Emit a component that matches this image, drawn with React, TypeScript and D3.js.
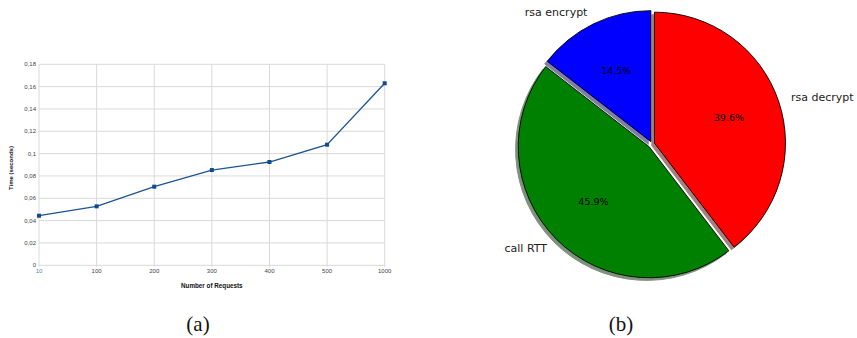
import React from "react";
import * as d3 from "d3";

// (a) response time per request count
const requestCounts = ["10", "100", "200", "300", "400", "500", "1000"];
const responseTimes = [0.0444, 0.0528, 0.0704, 0.0853, 0.0925, 0.108, 0.163];
const yTicks = [0, 0.02, 0.04, 0.06, 0.08, 0.1, 0.12, 0.14, 0.16, 0.18];

// (b) share of time per operation
const sliceLabels = ["rsa decrypt", "call RTT", "rsa encrypt"];
const sliceShares = [39.6, 45.9, 14.5];
const sliceColors = ["#ff0000", "#008000", "#0000ff"];
const sliceExplode = [0.02, 0.03, 0.02];

const W = 857;
const H = 338;

function LineChart() {
  const x = d3.scalePoint<string>().domain(requestCounts).range([39, 384.7]);
  const y = d3.scaleLinear().domain([0, 0.18]).range([265.3, 64.3]);
  const line = d3
    .line<number>()
    .x((_, i) => x(requestCounts[i]) as number)
    .y((d) => y(d));
  const fmt = (v: number) => String(+v.toFixed(2)).replace(".", ",");
  const font = "'Liberation Sans', Arial, sans-serif";
  return (
    <g>
      {yTicks.map((t) => (
        <line
          key={"h" + t}
          x1={x.range()[0]}
          x2={x.range()[1]}
          y1={y(t)}
          y2={y(t)}
          stroke="#d9d9d9"
          strokeWidth={1}
        />
      ))}
      {requestCounts.map((c) => (
        <line
          key={"v" + c}
          x1={x(c)}
          x2={x(c)}
          y1={y(0.18)}
          y2={y(0) + 1.5}
          stroke="#d9d9d9"
          strokeWidth={1}
        />
      ))}
      {yTicks.map((t) => (
        <text
          key={"yt" + t}
          x={36}
          y={y(t)}
          dy="0.35em"
          textAnchor="end"
          fontFamily={font}
          fontSize={6}
          fill="#444"
        >
          {fmt(t)}
        </text>
      ))}
      {requestCounts.map((c, i) => (
        <text
          key={"xt" + c}
          x={x(c)}
          y={273}
          textAnchor="middle"
          fontFamily={font}
          fontSize={6}
          fill={i === 0 ? "#5a82c8" : "#444"}
        >
          {c}
        </text>
      ))}
      <path d={line(responseTimes) || ""} fill="none" stroke="#1d5493" strokeWidth={1.3} />
      {responseTimes.map((v, i) => (
        <rect
          key={"m" + i}
          x={(x(requestCounts[i]) as number) - 2}
          y={y(v) - 2}
          width={4}
          height={4}
          fill="#0f4a8c"
        />
      ))}
      <text
        x={211.8}
        y={288}
        textAnchor="middle"
        fontFamily={font}
        fontSize={6.3}
        fontWeight="bold"
        fill="#111"
      >
        Number of Requests
      </text>
      <text
        transform={`translate(11,168) rotate(-90)`}
        dy="0.35em"
        textAnchor="middle"
        fontFamily={font}
        fontSize={6}
        fontWeight="bold"
        fill="#111"
      >
        Time (seconds)
      </text>
    </g>
  );
}

function PieChart() {
  const cx = 652;
  const cy = 144;
  const r = 131;
  const shadow = 0.02 * r;
  const pie = d3
    .pie<number>()
    .sort(null)
    .startAngle(0)
    .endAngle(2 * Math.PI);
  const arcs = pie(sliceShares);
  const arc = d3.arc<d3.PieArcDatum<number>>().innerRadius(0).outerRadius(r);
  const dir = (a: d3.PieArcDatum<number>) => {
    const m = (a.startAngle + a.endAngle) / 2;
    return [Math.sin(m), -Math.cos(m)];
  };
  const shadowColor = (c: string) => {
    const rgb = d3.rgb(c);
    return d3.rgb(rgb.r * 0.3, rgb.g * 0.3, rgb.b * 0.3).toString();
  };
  const font = "'DejaVu Sans', sans-serif";
  return (
    <g>
      {arcs.map((a, i) => {
        const [dx, dy] = dir(a);
        const e = sliceExplode[i] * r;
        return (
          <path
            key={"s" + i}
            d={arc(a) || ""}
            transform={`translate(${cx + dx * e - shadow},${cy + dy * e + shadow})`}
            fill={shadowColor(sliceColors[i])}
            stroke={shadowColor(sliceColors[i])}
            strokeWidth={1}
            opacity={0.5}
          />
        );
      })}
      {arcs.map((a, i) => {
        const [dx, dy] = dir(a);
        const e = sliceExplode[i] * r;
        return (
          <path
            key={"w" + i}
            d={arc(a) || ""}
            transform={`translate(${cx + dx * e},${cy + dy * e})`}
            fill={sliceColors[i]}
            stroke="#000"
            strokeWidth={0.9}
            strokeLinejoin="round"
          />
        );
      })}
      {arcs.map((a, i) => {
        const [dx, dy] = dir(a);
        const e = sliceExplode[i] * r;
        const ox = cx + dx * e;
        const oy = cy + dy * e;
        return (
          <g key={"t" + i}>
            <text
              x={ox + dx * r * 0.6}
              y={oy + dy * r * 0.6}
              dy="0.35em"
              textAnchor="middle"
              fontFamily={font}
              fontSize={9.5}
              fill="#000"
            >
              {a.data.toFixed(1)}%
            </text>
            <text
              x={ox + dx * r * 1.1}
              y={oy + dy * r * 1.1}
              dy="0.35em"
              textAnchor={dx < 0 ? "end" : "start"}
              fontFamily={font}
              fontSize={11}
              fill="#222"
            >
              {sliceLabels[i]}
            </text>
          </g>
        );
      })}
    </g>
  );
}

export default function App() {
  const serif = "'Liberation Serif', 'DejaVu Serif', serif";
  return (
    <svg
      width={W}
      height={H}
      viewBox={`0 0 ${W} ${H}`}
      style={{ position: "absolute", left: 0, top: 0, background: "#fff" }}
    >
      <rect width={W} height={H} fill="#fff" />
      <LineChart />
      <PieChart />
      <text x={198} y={331} textAnchor="middle" fontFamily={serif} fontSize={21} fill="#111">
        (a)
      </text>
      <text x={621} y={331} textAnchor="middle" fontFamily={serif} fontSize={21} fill="#111">
        (b)
      </text>
    </svg>
  );
}
